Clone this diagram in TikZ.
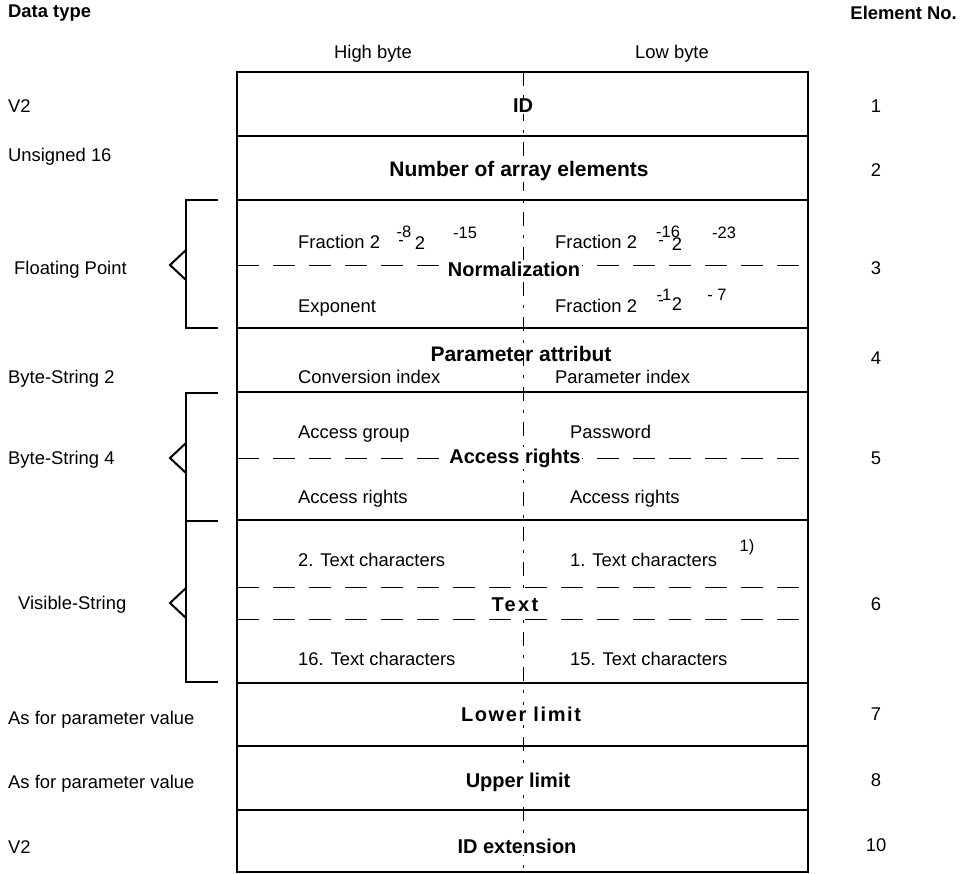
\documentclass[tikz,border=0pt]{standalone}
\usepackage{fontspec}
\setmainfont{Liberation Sans}
\begin{document}
\begin{tikzpicture}[x=1pt,y=-1pt,
  reg/.style={font=\fontsize{18.4}{20}\selectfont, inner sep=0pt, text height=13pt, text depth=4pt},
  lbl/.style={reg, anchor=west},
  hdr/.style={font=\fontsize{18.4}{20}\selectfont\bfseries, inner sep=0pt},
  bold/.style={font=\fontsize{20}{22}\selectfont\bfseries, inner sep=1.5pt, fill=white},
  sup/.style={font=\fontsize{16.5}{18}\selectfont, inner sep=0pt},
  rowbox/.style={draw, line width=2.4pt, minimum width=571pt, inner sep=0pt},
  brk/.style={line width=2pt},
  hdash/.style={line width=0.9pt, dash pattern=on 22pt off 14pt},
  vdiv/.style={line width=0.9pt, dash pattern=on 14pt off 9pt on 3pt off 9pt}]
\useasboundingbox (0,0) rectangle (960,873);

% headings
\node[hdr, anchor=west] (dt) at (8,13) {Data type};
\node[hdr, anchor=east] (en) at (957,13) {Element No.};
\node[reg] (hb) at (373,54) {High byte};
\node[reg] (lb) at (672,54) {Low byte};

% centre divider
\coordinate (dtop) at (523,72);
\coordinate (dbot) at (523,872);
\draw[vdiv] (dtop) -- (dbot);

% dashed horizontal lines
\coordinate (fl) at (237,265); \coordinate (fr) at (808,265);
\coordinate (al) at (237,458); \coordinate (ar) at (808,458);
\coordinate (t1l) at (237,587); \coordinate (t1r) at (808,587);
\coordinate (t2l) at (237,619); \coordinate (t2r) at (808,619);
\draw[hdash] (fl) -- (fr);
\draw[hdash] (al) -- (ar);
\draw[hdash] (t1l) -- (t1r);
\draw[hdash] (t2l) -- (t2r);

% rows
\node[rowbox, minimum height=64pt] (r1) at (522.5,104) {};
\node[rowbox, minimum height=64pt] (r2) at (522.5,168) {};
\node[rowbox, minimum height=128pt] (r3) at (522.5,264) {};
\node[rowbox, minimum height=64pt] (r4) at (522.5,360) {};
\node[rowbox, minimum height=128pt] (r5) at (522.5,456) {};
\node[rowbox, minimum height=163pt] (r6) at (522.5,601.5) {};
\node[rowbox, minimum height=63pt] (r7) at (522.5,714.5) {};
\node[rowbox, minimum height=64pt] (r8) at (522.5,778) {};
\node[rowbox, minimum height=62pt] (r9) at (522.5,841) {};

% bold centre labels
\node[bold] (id) at (523,106) {ID};
\node[bold, font=\fontsize{21}{23}\selectfont\bfseries] (nae) at (519,171) {Number of array elements};
\node[bold] (norm) at (514,269) {Normalization};
\node[bold, fill=none, font=\fontsize{21}{23}\selectfont\bfseries] (pa) at (521,354) {Parameter attribut};
\node[bold] (acr) at (515,458) {Access rights};
\node[bold] (txt) at (515,605) {\addfontfeature{LetterSpace=12}Text};
\node[bold] (ll) at (521,714) {\addfontfeature{LetterSpace=8}Lower limit};
\node[bold] (ul) at (518,782) {Upper limit};
\node[bold] (ide) at (517,846) {ID extension};

% floating point contents
\node[lbl] (f1) at (298,244) {Fraction 2};
\node[sup] (f1a) at (404,232) {-8};
\node[sup] (f1b) at (401,243) {-};
\node[reg] (f1c) at (420,245) {2};
\node[sup] (f1d) at (465,233) {-15};
\node[lbl] (ex) at (298,308) {Exponent};
\node[lbl] (f2) at (555,244) {Fraction 2};
\node[sup] (f2a) at (668,232) {-16};
\node[sup] (f2b) at (661,243) {-};
\node[reg] (f2c) at (677,246) {2};
\node[sup] (f2d) at (724,233) {-23};
\node[lbl] (f3) at (555,308) {Fraction 2};
\node[sup] (f3a) at (664,295) {-1};
\node[sup] (f3b) at (661,303) {-};
\node[reg] (f3c) at (677,306) {2};
\node[sup] (f3d) at (717,295) {- 7};

% parameter attribut
\node[lbl] (ci) at (298,379) {Conversion index};
\node[lbl] (pi) at (555,379) {Parameter index};

% access rights
\node[lbl] (ag) at (298,434) {Access group};
\node[lbl] (pw) at (570,434) {Password};
\node[lbl] (ar1) at (298,499) {Access rights};
\node[lbl] (ar2) at (570,499) {Access rights};

% text
\node[lbl] (tc2) at (298,562) {2. Text characters};
\node[lbl] (tc1) at (570,562) {1. Text characters};
\node[sup] (fn) at (747,547) {1)};
\node[lbl] (tc16) at (298,661) {16. Text characters};
\node[lbl] (tc15) at (570,661) {15. Text characters};

% left data types
\node[lbl] (d1) at (8,108) {V2};
\node[lbl] (d2) at (8,157) {Unsigned 16};
\node[lbl] (d3) at (14,270) {Floating Point};
\node[lbl] (d4) at (8,379) {Byte-String 2};
\node[lbl] (d5) at (8,460) {Byte-String 4};
\node[lbl] (d6) at (18,605) {Visible-String};
\node[lbl] (d7) at (8,720) {As for parameter value};
\node[lbl] (d8) at (8,784) {As for parameter value};
\node[lbl] (d9) at (8,849) {V2};

% element numbers
\node[reg] (e1) at (876,108) {1};
\node[reg] (e2) at (876,172) {2};
\node[reg] (e3) at (876,270) {3};
\node[reg] (e4) at (876,360) {4};
\node[reg] (e5) at (876,460) {5};
\node[reg] (e6) at (876,606) {6};
\node[reg] (e7) at (876,716) {7};
\node[reg] (e8) at (876,782) {8};
\node[reg] (e10) at (876,847) {10};

% brackets
\draw[brk] (218,200) -- (186,200) -- (186,328) -- (218,328);
\draw[brk] (186,250) -- (170,265) -- (186,280);
\draw[brk] (218,393) -- (186,393) -- (186,521) -- (218,521);
\draw[brk] (186,443) -- (170,458) -- (186,473);
\draw[brk] (186,521) -- (186,682) -- (218,682);
\draw[brk] (186,588) -- (170,603) -- (186,618);
\end{tikzpicture}
\end{document}
